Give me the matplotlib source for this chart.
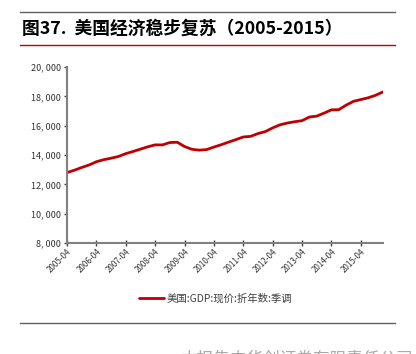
import numpy as np
import pandas as pd
import matplotlib
matplotlib.use("Agg")
import matplotlib.pyplot as plt
import matplotlib.dates as mdates
from matplotlib.ticker import FuncFormatter

plt.rcParams['font.family'] = ['Noto Sans CJK SC', 'DejaVu Sans']

# quarterly, 2005-04 .. 2016-01 (billion USD, SAAR)
dates = pd.date_range('2005-04-01', periods=44, freq='3MS')
gdp = [12800, 12960, 13150, 13320,
       13540, 13680, 13780, 13900,
       14090, 14240, 14400, 14560,
       14690, 14690, 14850, 14870,
       14580, 14390, 14330, 14370,
       14540, 14700, 14880, 15050,
       15230, 15270, 15460, 15600,
       15850, 16060, 16180, 16270,
       16340, 16590, 16650, 16860,
       17080, 17090, 17400, 17660,
       17780, 17900, 18070, 18300]

yticks = [8000, 10000, 12000, 14000, 16000, 18000, 20000]
xtick_dates = pd.date_range('2005-04-01', '2015-04-01', freq='12MS')
xtick_labels = [d.strftime('%Y-%m') for d in xtick_dates]

title = '图37.  美国经济稳步复苏（2005-2015）'
legend_label = '美国:GDP:现价:折年数:季调'
footer = '本报告由华创证券有限责任公司'

fig = plt.figure(figsize=(4.16, 3.54), dpi=100)
ax = fig.add_axes([0.161, 0.3136, 0.76, 0.4971])

ax.plot(dates, gdp, color='#C00000', lw=2.0, label=legend_label, solid_capstyle='round')

ax.set_ylim(8000, 20000)
ax.set_yticks(yticks)
ax.yaxis.set_major_formatter(FuncFormatter(lambda v, p: f'{int(v):,}'.replace(',', ', ')))
ax.set_xlim(dates[0], dates[-1] + pd.Timedelta(days=3))
ax.set_xticks(xtick_dates)
ax.set_xticklabels(xtick_labels, rotation=45, ha='right', rotation_mode='anchor')

for s in ['top', 'right']:
    ax.spines[s].set_visible(False)
for s in ['left', 'bottom']:
    ax.spines[s].set_color('#808080')
    ax.spines[s].set_linewidth(1.5)
ax.tick_params(axis='y', direction='out', length=2.5, width=1, color='#404040',
               labelsize=6.5, labelcolor='#333333', pad=2)
ax.tick_params(axis='x', direction='inout', length=4, width=1, color='#404040',
               labelsize=5.8, labelcolor='#333333', pad=1)

leg = ax.legend(loc='upper center', bbox_to_anchor=(0.47, -0.23), frameon=False,
                fontsize=7.5, handlelength=2.4, handletextpad=0.3)
for t in leg.get_texts():
    t.set_color('#404040')

# header/footer decorations
fig.add_artist(plt.Line2D([20/416, 395/416], [1-12.3/354]*2, color='#606060', lw=1.0))
fig.text(22/416, 1-29/354, title, fontsize=12.8, fontweight='bold', va='center', ha='left')
fig.add_artist(plt.Line2D([20/416, 395/416], [1-44.7/354]*2, color='#C00000', lw=1.0))
fig.add_artist(plt.Line2D([20/416, 395/416], [1-323/354]*2, color='#606060', lw=1.0))
fig.text(180/416, 1-350/354, footer, fontsize=12, color='#aaaaaa', va='top', ha='left')

fig.savefig('out.png', dpi=100)
